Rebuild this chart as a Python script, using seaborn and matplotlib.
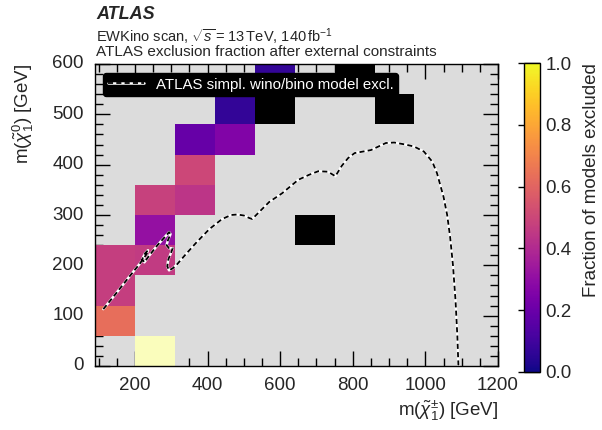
import numpy as np
import pandas as pd
import matplotlib
matplotlib.use("Agg")
import matplotlib.pyplot as plt
from matplotlib.colors import ListedColormap
from matplotlib.ticker import FixedLocator
from matplotlib.lines import Line2D
from matplotlib.legend_handler import HandlerTuple
import seaborn as sns

# ---- binning of the EWKino scan (GeV) ----
chargino_edges = [90, 200, 310, 420, 530, 640, 750, 860, 970, 1080, 1190]
neutralino_edges = [0, 60, 120, 180, 240, 300, 360, 420, 480, 540, 600]

# ---- excluded fraction per populated bin (row = neutralino bin, col = chargino bin) ----
frac_rows = [0, 1, 2, 3, 3, 4, 5, 5, 6, 7, 7, 8, 9]
frac_cols = [1, 0, 0, 0, 1, 1, 1, 2, 2, 2, 3, 3, 4]
frac_vals = [1.00, 0.63, 0.47, 0.47, 0.46, 0.31, 0.48, 0.44, 0.50, 0.19, 0.26, 0.07, 0.07]

# bins whose models are all removed by the external constraints
removed_rows = [4, 8, 8, 9]
removed_cols = [5, 4, 7, 6]

# ---- ATLAS simplified wino/bino exclusion contour ----
contour_x = [113, 150, 185, 212, 222, 232, 236, 228, 220, 226, 240, 262, 282, 294,
             298, 291, 287, 294, 304, 300, 292, 289, 294, 304, 316, 340, 370, 405,
             440, 465, 482, 500, 515, 523, 545, 570, 605, 650, 680, 705, 732, 752,
             770, 787, 805, 850, 891, 914, 945, 969, 996, 1019, 1032, 1050, 1060,
             1068, 1076, 1083, 1088, 1091]
contour_y = [113, 146, 178, 202, 212, 222, 230, 224, 212, 206, 220, 240, 256, 266,
             262, 250, 240, 234, 234, 226, 212, 198, 190, 194, 202, 222, 246, 272,
             292, 300, 301, 299, 294, 292, 308, 326, 343, 370, 380, 387, 386, 377,
             398, 413, 423, 429, 443, 444, 440, 436, 426, 406, 383, 336, 300,
             257, 200, 130, 60, 0]

# ---- build the bin matrix ----
n_y = len(neutralino_edges) - 1
n_x = len(chargino_edges) - 1
grid = np.full((n_y, n_x), np.nan)
for r, c, v in zip(frac_rows, frac_cols, frac_vals):
    grid[r, c] = v
for r, c in zip(removed_rows, removed_cols):
    grid[r, c] = -1.0
frame = pd.DataFrame(grid,
                     index=neutralino_edges[:-1],
                     columns=chargino_edges[:-1])

x0, dx = chargino_edges[0], chargino_edges[1] - chargino_edges[0]
dy = neutralino_edges[1] - neutralino_edges[0]


def gx(v):
    return (np.asarray(v, dtype=float) - x0) / dx


def gy(v):
    return np.asarray(v, dtype=float) / dy


# ---- style ----
sns.set_style("ticks")
plt.rcParams["font.family"] = ["Liberation Sans", "DejaVu Sans"]
plt.rcParams["mathtext.fontset"] = "custom"
plt.rcParams["mathtext.rm"] = "Liberation Sans"
plt.rcParams["mathtext.it"] = "Liberation Sans:italic"
plt.rcParams["mathtext.bf"] = "Liberation Sans:bold"

fig = plt.figure(figsize=(6.02, 4.30), dpi=100)
ax = fig.add_axes([95 / 602, 1 - 366 / 430, 403 / 602, 302 / 430])
cax = fig.add_axes([524 / 602, 1 - 372 / 430, 16 / 602, 309 / 430])
ax.set_facecolor("#dcdcdc")

cmap = plt.get_cmap("plasma").with_extremes(under="black")

sns.heatmap(frame, ax=ax, cbar_ax=cax, cmap=cmap, vmin=0.0, vmax=1.0,
            cbar_kws={"ticks": [0.0, 0.2, 0.4, 0.6, 0.8, 1.0]})

# fully excluded bin shown with a lighter shade
full = frame.where(frame >= 1.0)
sns.heatmap(full, ax=ax, cbar=False, cmap=ListedColormap(["white"]),
            alpha=0.7, vmin=0, vmax=1)

# exclusion contour: white line with black dashes on top
cx, cy = gx(contour_x), gy(contour_y)
ax.plot(cx, cy, color="white", lw=1.8, solid_capstyle="round",
        solid_joinstyle="round", zorder=5)
ax.plot(cx, cy, color="black", lw=1.3, dashes=(2.8, 1.8), zorder=6)

# ---- axes ----
ax.set_xlim(0, gx(1200))
ax.set_ylim(0, gy(600))
xmaj = np.arange(200, 1201, 200)
ymaj = np.arange(0, 601, 100)
ax.xaxis.set_major_locator(FixedLocator(gx(xmaj)))
ax.xaxis.set_minor_locator(FixedLocator(gx(np.arange(100, 1201, 50))))
ax.yaxis.set_major_locator(FixedLocator(gy(ymaj)))
ax.yaxis.set_minor_locator(FixedLocator(gy(np.arange(0, 601, 20))))
ax.set_xticklabels([str(v) for v in xmaj], rotation=0)
ax.set_yticklabels([str(v) for v in ymaj], rotation=0)
ax.tick_params(which="both", direction="in", top=True, right=True,
               labelsize=13.5, color="black", width=1.0)
ax.tick_params(which="major", length=11, pad=8)
ax.tick_params(which="minor", length=5.5)
for sp in ax.spines.values():
    sp.set_visible(True)
    sp.set_color("black")
    sp.set_linewidth(1.0)

ax.set_xlabel(r"m($\tilde{\chi}_1^{\pm}$) [GeV]", fontsize=13.5, loc="right",
              labelpad=3)
ax.set_ylabel(r"m($\tilde{\chi}_1^{0}$) [GeV]", fontsize=13.5, loc="top",
              labelpad=12)

# ---- colour bar ----
cbar = ax.collections[0].colorbar
cbar.outline.set_edgecolor("black")
cbar.outline.set_linewidth(1.0)
cax.yaxis.set_minor_locator(FixedLocator(np.arange(0, 1.0001, 0.05)))
cax.tick_params(which="major", direction="in", length=16, width=1.0,
                labelsize=13.5, color="black", pad=4, left=False, right=True)
cax.tick_params(which="minor", direction="in", length=5, width=1.0,
                color="black", left=True, right=False)
cax.set_yticklabels(["0.0", "0.2", "0.4", "0.6", "0.8", "1.0"])
cbar.set_label("Fraction of models excluded", fontsize=13.5, loc="top",
               labelpad=8)

# ---- legend ----
h_under = Line2D([], [], color="white", lw=1.8)
h_dash = Line2D([], [], color="black", lw=1.3, dashes=(2.8, 1.8))
leg = ax.legend([(h_under, h_dash)], ["ATLAS simpl. wino/bino model excl."],
                handler_map={tuple: HandlerTuple(ndivide=1)},
                loc="upper left", bbox_to_anchor=(8 / 403, 1 - 9 / 302),
                borderaxespad=0, fontsize=10.8, frameon=True, fancybox=True,
                facecolor="black", edgecolor="black", framealpha=1.0,
                labelcolor="white", handlelength=2.4, handletextpad=0.8,
                borderpad=0.3)
leg.set_zorder(10)

# ---- header ----
fig.text(96 / 602, 1 - 19 / 430, "ATLAS", fontsize=13, fontweight="bold",
         fontstyle="italic", va="baseline", ha="left")
fig.text(96 / 602, 1 - 42 / 430,
         r"EWKino scan, $\sqrt{s}\,$= 13$\,$TeV, 140$\,$fb$^{-1}$",
         fontsize=10.5, va="baseline", ha="left")
fig.text(96 / 602, 1 - 56 / 430,
         "ATLAS exclusion fraction after external constraints",
         fontsize=11, va="baseline", ha="left")

fig.savefig("out.png", dpi=100)
